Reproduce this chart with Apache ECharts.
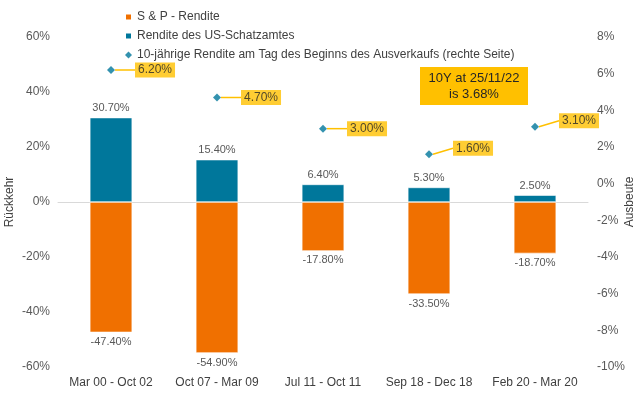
<!DOCTYPE html>
<html>
<head>
<meta charset="utf-8">
<script src="https://cdn.jsdelivr.net/npm/echarts@6/dist/echarts.min.js"></script>
<style>
  html, body { margin: 0; padding: 0; background: #fff; }
  #chart { width: 640px; height: 398px; }
</style>
</head>
<body>
<div id="chart"></div>
<script>
const categories = ['Mar 00 - Oct 02', 'Oct 07 - Mar 09', 'Jul 11 - Oct 11', 'Sep 18 - Dec 18', 'Feb 20 - Mar 20']
const spReturn = [-47.4, -54.9, -17.8, -33.5, -18.7]
const treasuryReturn = [30.7, 15.4, 6.4, 5.3, 2.5]
const tenYearYield = [6.2, 4.7, 3.0, 1.6, 3.1]

const FONT = '"Liberation Sans", Arial, sans-serif'
const GREY = '#595959'
const ORANGE = '#F07000'
const BLUE = '#00779B'
const GOLD = '#FFC000'

const pct = v => v.toFixed(2) + '%'

const chart = echarts.init(document.getElementById('chart'))

const option = {
  animation: false,
  textStyle: { fontFamily: FONT },
  grid: { left: 58, right: 52, top: 37, bottom: 31, outerBoundsMode: 'none', containLabel: false },
  legend: {
    orient: 'vertical',
    left: 119,
    top: 6,
    itemGap: 7,
    itemWidth: 7,
    itemHeight: 7,
    textStyle: { fontFamily: FONT, fontSize: 12, color: '#404040' },
    data: [
      { name: 'S & P - Rendite', icon: 'rect' },
      { name: 'Rendite des US-Schatzamtes', icon: 'rect' },
      { name: '10-jährige Rendite am Tag des Beginns des Ausverkaufs (rechte Seite)', icon: 'diamond' }
    ]
  },
  xAxis: {
    type: 'category',
    data: categories,
    axisTick: { show: false },
    axisLine: { show: true, lineStyle: { color: '#D9D9D9', width: 1 } },
    axisLabel: { fontFamily: FONT, fontSize: 12, color: '#404040', margin: 10, interval: 0 }
  },
  yAxis: [
    {
      type: 'value',
      min: -60,
      max: 60,
      interval: 20,
      name: 'Rückkehr',
      nameLocation: 'middle',
      nameRotate: 90,
      nameGap: 42,
      nameMoveOverlap: false,
      nameTextStyle: { fontFamily: FONT, fontSize: 12, color: '#404040' },
      splitLine: { show: false },
      axisLine: { show: false },
      axisTick: { show: false },
      axisLabel: { fontFamily: FONT, fontSize: 12, color: GREY, margin: 8, formatter: v => v + '%' }
    },
    {
      type: 'value',
      min: -10,
      max: 8,
      interval: 2,
      name: 'Ausbeute',
      nameLocation: 'middle',
      nameRotate: 90,
      nameGap: 36,
      nameMoveOverlap: false,
      nameTextStyle: { fontFamily: FONT, fontSize: 12, color: '#404040' },
      splitLine: { show: false },
      axisLine: { show: false },
      axisTick: { show: false },
      axisLabel: { fontFamily: FONT, fontSize: 12, color: GREY, margin: 9, formatter: v => v + '%' }
    }
  ],
  series: [
    {
      name: 'S & P - Rendite',
      type: 'bar',
      stack: 'ret',
      data: spReturn,
      barWidth: '40%',
      itemStyle: { color: ORANGE, borderColor: '#fff', borderWidth: 0.6 },
      label: {
        show: true,
        position: 'bottom',
        distance: 4,
        fontFamily: FONT,
        fontSize: 11,
        color: GREY,
        formatter: p => pct(p.value)
      }
    },
    {
      name: 'Rendite des US-Schatzamtes',
      type: 'bar',
      stack: 'ret',
      data: treasuryReturn,
      barWidth: '40%',
      itemStyle: { color: BLUE, borderColor: '#fff', borderWidth: 0.6 },
      label: {
        show: true,
        position: 'top',
        distance: 4,
        fontFamily: FONT,
        fontSize: 11,
        color: GREY,
        formatter: p => pct(p.value)
      }
    },
    {
      name: '10-jährige Rendite am Tag des Beginns des Ausverkaufs (rechte Seite)',
      type: 'scatter',
      yAxisIndex: 1,
      data: tenYearYield,
      symbol: 'diamond',
      symbolSize: 8,
      itemStyle: { color: BLUE },
      z: 5,
      label: {
        show: true,
        position: 'right',
        distance: 4,
        fontFamily: FONT,
        fontSize: 12,
        color: '#262626',
        backgroundColor: GOLD,
        padding: [2, 3, 1, 3],
        formatter: p => pct(p.value)
      },
      labelLayout: p => ({ dx: 16, dy: p.dataIndex >= 3 ? -6 : 0 }),
      labelLine: {
        show: true,
        smooth: 0.3,
        lineStyle: { color: GOLD, width: 1.5 }
      }
    }
  ],
  graphic: [
    {
      type: 'group',
      left: 420,
      top: 67,
      children: [
        {
          type: 'rect',
          shape: { x: 0, y: 0, width: 108, height: 38 },
          style: { fill: GOLD }
        },
        {
          type: 'text',
          x: 54,
          y: 19,
          style: {
            text: '10Y at 25/11/22\nis 3.68%',
            fontFamily: FONT,
            fontSize: 13,
            lineHeight: 16,
            fill: '#262626',
            align: 'center',
            verticalAlign: 'middle'
          }
        }
      ]
    }
  ]
}

chart.setOption(option)
</script>
</body>
</html>
